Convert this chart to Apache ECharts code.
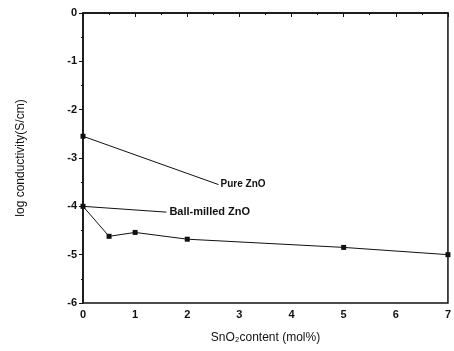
<!DOCTYPE html>
<html>
<head>
<meta charset="utf-8">
<script src="https://cdn.jsdelivr.net/npm/echarts@6/dist/echarts.min.js"></script>
<style>
  html, body { margin: 0; padding: 0; background: #fff; }
  #main { width: 454px; height: 351px; }
</style>
</head>
<body>
<div id="main"></div>
<script>
var xTicks = [0, 1, 2, 3, 4, 5, 6, 7];
var yTicks = [0, -1, -2, -3, -4, -5, -6];

// Pure ZnO
var pureX = [0];
var pureY = [-2.55];
// Ball-milled ZnO
var ballX = [0, 0.5, 1, 2, 5, 7];
var ballY = [-4.0, -4.62, -4.54, -4.68, -4.85, -5.0];

// leader lines from the data to the text labels
var pureLeader = [[0, -2.55], [2.6, -3.55]];
var ballLeader = [[0, -4.0], [1.6, -4.12]];

var chartDom = document.getElementById('main');
var myChart = echarts.init(chartDom);
var option;

function pairs(xs, ys) {
    return xs.map(function (x, i) { return [x, ys[i]]; });
}

var font = 'Liberation Sans';

option = {
    backgroundColor: '#fff',
    animation: false,
    grid: {
        left: 83,
        right: 3,
        top: 13,
        bottom: 48,
        show: true,
        borderColor: '#111',
        borderWidth: 1.5
    },
    xAxis: {
        type: 'value',
        min: 0,
        max: 7,
        interval: 1,
        name: 'SnO\u2082content (mol%)',
        nameLocation: 'middle',
        nameGap: 29,
        nameTextStyle: { fontFamily: font, fontSize: 12, color: '#111' },
        axisLine: { lineStyle: { color: '#111', width: 1.5 } },
        axisTick: { inside: false, length: 4, lineStyle: { color: '#111' } },
        minorTick: { show: true, splitNumber: 2, length: 2, lineStyle: { color: '#111' } },
        splitLine: { show: false },
        axisLabel: {
            fontFamily: font, fontSize: 11, fontWeight: 'bold', color: '#111', margin: 6,
            formatter: function (v) { return xTicks.indexOf(v) >= 0 ? String(v) : ''; }
        }
    },
    yAxis: {
        type: 'value',
        min: -6,
        max: 0,
        interval: 1,
        name: 'log conductivity(S/cm)',
        nameLocation: 'middle',
        nameGap: 56,
        nameTextStyle: { fontFamily: font, fontSize: 12, color: '#111' },
        axisLine: { lineStyle: { color: '#111', width: 1.5 } },
        axisTick: { inside: false, length: 4, lineStyle: { color: '#111' } },
        minorTick: { show: true, splitNumber: 2, length: 2, lineStyle: { color: '#111' } },
        splitLine: { show: false },
        axisLabel: {
            fontFamily: font, fontSize: 11, fontWeight: 'bold', color: '#111', margin: 6,
            formatter: function (v) { return yTicks.indexOf(v) >= 0 ? String(v) : ''; }
        }
    },
    series: [
        {
            name: 'Pure ZnO leader',
            type: 'line',
            data: pureLeader,
            symbol: 'none',
            lineStyle: { color: '#111', width: 1 },
            endLabel: {
                show: true, formatter: 'Pure ZnO', fontFamily: font, fontSize: 10,
                fontWeight: 'bold', color: '#111', distance: 2
            }
        },
        {
            name: 'Ball-milled ZnO leader',
            type: 'line',
            data: ballLeader,
            symbol: 'none',
            lineStyle: { color: '#111', width: 1 },
            endLabel: {
                show: true, formatter: 'Ball-milled ZnO', fontFamily: font, fontSize: 11,
                fontWeight: 'bold', color: '#111', distance: 3
            }
        },
        {
            name: 'Pure ZnO',
            type: 'line',
            data: pairs(pureX, pureY),
            symbol: 'rect',
            symbolSize: 5,
            itemStyle: { color: '#111' },
            lineStyle: { color: '#111', width: 1 }
        },
        {
            name: 'Ball-milled ZnO',
            type: 'line',
            data: pairs(ballX, ballY),
            symbol: 'rect',
            symbolSize: 5,
            itemStyle: { color: '#111' },
            lineStyle: { color: '#111', width: 1 }
        }
    ]
};

option && myChart.setOption(option);
</script>
</body>
</html>
